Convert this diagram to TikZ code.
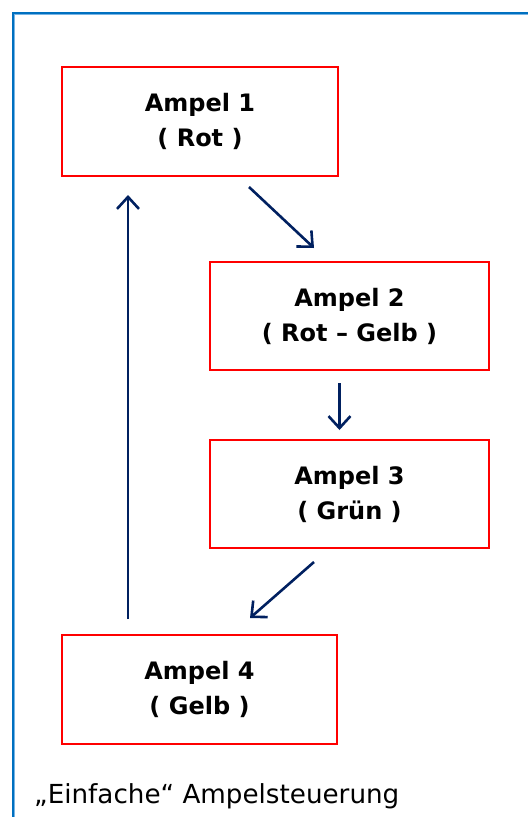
\documentclass[tikz,border=0pt]{standalone}
\usepackage{fontspec}
\setmainfont{DejaVu Sans}
\usetikzlibrary{arrows.meta}
\definecolor{frameblue}{RGB}{0,112,192}
\definecolor{framelight}{RGB}{120,180,228}
\definecolor{boxred}{RGB}{255,0,0}
\definecolor{arrownavy}{RGB}{0,32,96}
\tikzset{
  statebox/.style={draw=boxred, line width=2.6pt, rectangle, align=center,
    font=\fontsize{24}{35}\selectfont\bfseries, inner sep=0pt},
  flow/.style={draw=arrownavy, line width=2.6pt,
    -{Straight Barb[length=12pt,width=22pt]}},
}
\begin{document}
\begin{tikzpicture}[x=1pt, y=-1pt]
  \useasboundingbox (0,0) rectangle (528,817);
  % outer frame (left and top edges) with a soft inner rim
  \draw[framelight, line width=1pt] (14.8,817) -- (14.8,14.8) -- (528,14.8);
  \draw[frameblue, line width=2.6pt] (13,817) -- (13,13) -- (528,13);

  % traffic light states
  \node[statebox, minimum width=276pt, minimum height=109pt] (s1) at (200,121.5) {Ampel 1\\( Rot )};
  \node[statebox, minimum width=279pt, minimum height=108pt] (s2) at (349.5,316) {Ampel 2\\( Rot – Gelb )};
  \node[statebox, minimum width=279pt, minimum height=108pt] (s3) at (349.5,494) {Ampel 3\\( Grün )};
  \node[statebox, minimum width=275pt, minimum height=109pt] (s4) at (199.5,689.5) {Ampel 4\\( Gelb )};

  % arrow end points between the boxes
  \coordinate (a1s) at (249,187);
  \coordinate (a1e) at (314,248);
  \coordinate (a2s) at (339.5,383);
  \coordinate (a2e) at (339.5,430);
  \coordinate (a3s) at (314,562);
  \coordinate (a3e) at (250,618);
  \coordinate (a4s) at (128,619);
  \coordinate (a4e) at (128,195);

  \draw[flow] (a1s) -- (a1e);
  \draw[flow] (a2s) -- (a2e);
  \draw[flow] (a3s) -- (a3e);
  \draw[flow] (a4s) -- (a4e);

  % caption
  \node[anchor=base west, inner sep=0pt, font=\fontsize{26.2}{30}\selectfont] (cap) at (34,803) {„Einfache“ Ampelsteuerung};
\end{tikzpicture}
\end{document}
